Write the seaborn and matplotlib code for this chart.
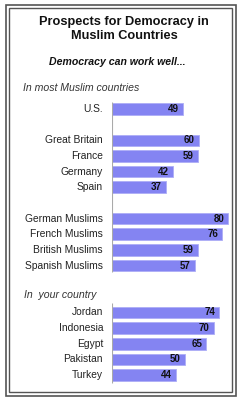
import matplotlib
matplotlib.use("Agg")
import matplotlib.pyplot as plt
import matplotlib.patches as mpatches
import seaborn as sns
import pandas as pd

# ---- data ----
group1_labels = ["U.S."]
group1_values = [49]
group2_labels = ["Great Britain", "France", "Germany", "Spain"]
group2_values = [60, 59, 42, 37]
group3_labels = ["German Muslims", "French Muslims", "British Muslims", "Spanish Muslims"]
group3_values = [80, 76, 59, 57]
group4_labels = ["Jordan", "Indonesia", "Egypt", "Pakistan", "Turkey"]
group4_values = [74, 70, 65, 50, 44]

title = "Prospects for Democracy in\nMuslim Countries"
subtitle = "Democracy can work well..."
section1 = "In most Muslim countries"
section2 = "In  your country"

# ---- layout ----
groups = [(group1_labels, group1_values), (group2_labels, group2_values),
          (group3_labels, group3_values), (group4_labels, group4_values)]
gaps = [0, 2, 2, 3]  # slot offset before each group start
labels, values, pos, grp = [], [], [], []
cur = -1
for gi, ((lab, val), g) in enumerate(zip(groups, gaps)):
    cur += (g if gi > 0 else 1)
    for i, (l, v) in enumerate(zip(lab, val)):
        if i > 0:
            cur += 1
        labels.append(l); values.append(v); pos.append(cur); grp.append(gi)
df = pd.DataFrame({"label": labels, "value": values, "pos": pos})

W, H = 241, 400
fig = plt.figure(figsize=(W / 100, H / 100), dpi=100)
fig.patch.set_facecolor("white")

px_per_unit = 1.45
x0 = 112
slot_px = 15.65
y0 = 109  # pixel center of first slot

ax = fig.add_axes([x0 / W, 0, (W - x0) / W, 1])

sns.barplot(data=df, x="value", y="pos", orient="h", native_scale=True,
            color="#8484f2", saturation=1, width=0.74, errorbar=None, ax=ax,
            edgecolor="#adadf6", linewidth=0.6)
ax.set_xlim(0, (W - x0) / px_per_unit)
ax.set_ylim((H - y0) / slot_px, -y0 / slot_px)

for l, v, p in zip(labels, values, pos):
    ax.text(v - 4 / px_per_unit, p, str(v), ha="right", va="center",
            fontsize=7.0, fontweight="bold", color="#111111", family="Liberation Sans")
    ax.text(-9 / px_per_unit, p, l, ha="right", va="center",
            fontsize=7.4, color="#222222", family="Liberation Sans")

# vertical axis lines
pos_a = [p for p, g in zip(pos, grp) if g < 3]
pos_b = [p for p, g in zip(pos, grp) if g == 3]
ax.vlines(0, min(pos_a) - 0.42, max(pos_a) + 0.42, color="#aaaaaa", lw=0.8)
ax.vlines(0, min(pos_b) - 0.6, max(pos_b) + 0.5, color="#aaaaaa", lw=0.8)

ax.axis("off")

def fx(x): return x / W
def fy(y): return 1 - y / H

fig.text(fx(124), fy(29), title, ha="center", va="center", fontsize=9.2,
         fontweight="bold", color="#111111", family="Liberation Sans", linespacing=1.15)
fig.text(fx(117), fy(62), subtitle, ha="center", va="center", fontsize=7.6,
         fontweight="bold", style="italic", color="#111111", family="Liberation Sans")
fig.text(fx(23), fy(88), section1, ha="left", va="center", fontsize=7.6,
         style="italic", color="#333333", family="Liberation Sans")
fig.text(fx(24), fy(295), section2, ha="left", va="center", fontsize=7.6,
         style="italic", color="#333333", family="Liberation Sans")

# double frame
for (l, t, r, b), lw in [((5.5, 4.5, 235.5, 395.5), 1.2), ((9, 8, 232, 392), 1.0)]:
    fig.patches.append(mpatches.Rectangle((fx(l), fy(b)), (r - l) / W, (b - t) / H,
                                          transform=fig.transFigure, fill=False,
                                          edgecolor="#555555", lw=lw))

fig.savefig("out.png", dpi=100, facecolor="white")
